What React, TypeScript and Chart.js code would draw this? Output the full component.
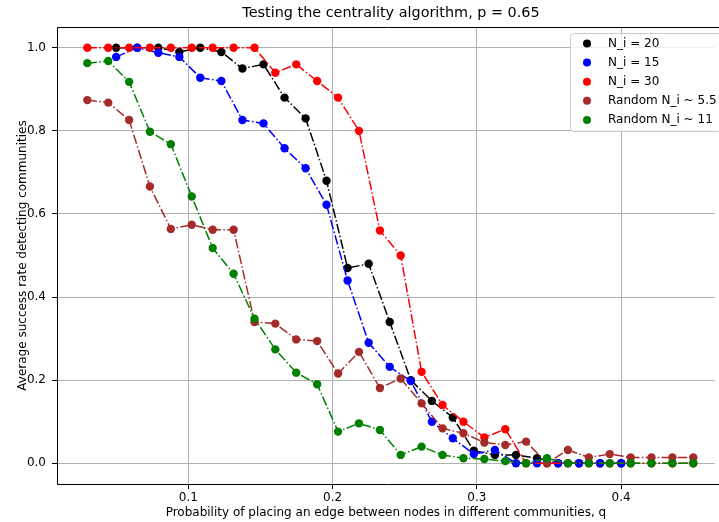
import React, { useEffect, useRef } from "react";
import { Chart, registerables } from "chart.js";

Chart.register(...registerables);

// q grid for N_i = 30 and the random series (30 points)
const qWide = [
  0.03, 0.0445, 0.059, 0.0734, 0.0879, 0.1024, 0.1169, 0.1314, 0.1459, 0.1603,
  0.1748, 0.1893, 0.2038, 0.2183, 0.2328, 0.2472, 0.2617, 0.2762, 0.2907, 0.3052,
  0.3197, 0.3341, 0.3486, 0.3631, 0.3776, 0.3921, 0.4066, 0.421, 0.4355, 0.45,
];
// q grid for N_i = 20 and N_i = 15 (25 points)
const qNarrow = [
  0.05, 0.0646, 0.0792, 0.0938, 0.1083, 0.1229, 0.1375, 0.1521, 0.1667, 0.1813,
  0.1958, 0.2104, 0.225, 0.2396, 0.2542, 0.2688, 0.2833, 0.2979, 0.3125, 0.3271,
  0.3417, 0.3563, 0.3708, 0.3854, 0.4,
];

const ni20 = [
  1.0, 1.0, 1.0, 0.99, 1.0, 0.99, 0.95, 0.96, 0.88, 0.83,
  0.68, 0.47, 0.48, 0.34, 0.2, 0.15, 0.11, 0.03, 0.02, 0.02,
  0.012, 0, 0, 0, 0,
];
const ni15 = [
  0.978, 1.0, 0.988, 0.978, 0.928, 0.92, 0.826, 0.818, 0.758, 0.71,
  0.622, 0.44, 0.29, 0.232, 0.198, 0.1, 0.06, 0.022, 0.032, 0,
  0, 0, 0, 0, 0,
];
const ni30 = [
  1.0, 1.0, 1.0, 1.0, 1.0, 1.0, 1.0, 1.0, 1.0, 0.94,
  0.96, 0.92, 0.88, 0.8, 0.56, 0.5, 0.22, 0.14, 0.1, 0.062,
  0.082, 0, 0, 0, 0, 0, 0, 0, 0, 0,
];
const rand55 = [
  0.874, 0.868, 0.826, 0.666, 0.564, 0.574, 0.562, 0.562, 0.34, 0.336,
  0.298, 0.294, 0.216, 0.268, 0.181, 0.204, 0.144, 0.084, 0.072, 0.05,
  0.044, 0.052, 0, 0.032, 0.014, 0.022, 0.014, 0.014, 0.014, 0.014,
];
const rand11 = [
  0.963, 0.968, 0.918, 0.798, 0.768, 0.642, 0.518, 0.456, 0.348, 0.274,
  0.218, 0.19, 0.076, 0.096, 0.08, 0.02, 0.04, 0.02, 0.012, 0.01,
  0.005, 0, 0.012, 0, 0, 0, 0, 0, 0, 0,
];

const seriesLabels = ["N_i = 20", "N_i = 15", "N_i = 30", "Random N_i ~ 5.5", "Random N_i ~ 11"];
const seriesColors = ["#000000", "#0000ff", "#ff0000", "#a52a2a", "#008000"];
const xTicks = [0.1, 0.2, 0.3, 0.4];
const yTicks = [0.0, 0.2, 0.4, 0.6, 0.8, 1.0];

const titleText = "Testing the centrality algorithm, p = 0.65";
const xLabel = "Probability of placing an edge between nodes in different communities, q";
const yLabel = "Average success rate detecting communities";

const FONT = '"DejaVu Sans", sans-serif';

const decorPlugin = {
  id: "decor",
  afterDraw(chart: any) {
    const { ctx, chartArea } = chart;
    const { left, top, right, bottom } = chartArea;
    ctx.save();
    // spines
    ctx.strokeStyle = "#000";
    ctx.lineWidth = 1;
    ctx.beginPath();
    ctx.moveTo(left + 0.5, bottom + 0.5);
    ctx.lineTo(left + 0.5, top + 0.5);
    ctx.lineTo(right + 5, top + 0.5);
    ctx.moveTo(left + 0.5, bottom + 0.5);
    ctx.lineTo(right + 5, bottom + 0.5);
    ctx.stroke();

    // title
    ctx.fillStyle = "#000";
    ctx.font = `14.4px ${FONT}`;
    ctx.textAlign = "center";
    ctx.textBaseline = "middle";
    ctx.fillText(titleText, 391, 13.5);

    // legend
    const bx = 570.5, by = 33.5, bw = 170, bh = 98, r = 3;
    ctx.beginPath();
    ctx.moveTo(bx + r, by);
    ctx.lineTo(bx + bw - r, by);
    ctx.quadraticCurveTo(bx + bw, by, bx + bw, by + r);
    ctx.lineTo(bx + bw, by + bh - r);
    ctx.quadraticCurveTo(bx + bw, by + bh, bx + bw - r, by + bh);
    ctx.lineTo(bx + r, by + bh);
    ctx.quadraticCurveTo(bx, by + bh, bx, by + bh - r);
    ctx.lineTo(bx, by + r);
    ctx.quadraticCurveTo(bx, by, bx + r, by);
    ctx.closePath();
    ctx.fillStyle = "rgba(255,255,255,0.8)";
    ctx.fill();
    ctx.strokeStyle = "#cccccc";
    ctx.lineWidth = 1;
    ctx.stroke();

    ctx.font = `12px ${FONT}`;
    ctx.textAlign = "left";
    ctx.textBaseline = "middle";
    seriesLabels.forEach((lab, i) => {
      const y = 43.5 + i * 19.1;
      ctx.beginPath();
      ctx.arc(587, y, 4, 0, Math.PI * 2);
      ctx.fillStyle = seriesColors[i];
      ctx.fill();
      ctx.fillStyle = "#000";
      ctx.fillText(lab, 608, y);
    });
    ctx.restore();
  },
};

export default function App() {
  const ref = useRef<HTMLCanvasElement | null>(null);

  useEffect(() => {
    document.body.style.margin = "0";
    const canvas = ref.current;
    if (!canvas) return;

    const mk = (xs: number[], ys: number[]) => ys.map((y, i) => ({ x: xs[i], y }));
    const allData = [
      mk(qNarrow, ni20),
      mk(qNarrow, ni15),
      mk(qWide, ni30),
      mk(qWide, rand55),
      mk(qWide, rand11),
    ];

    const datasets = allData.map((d, i) => ({
      label: seriesLabels[i],
      data: d,
      borderColor: seriesColors[i],
      backgroundColor: seriesColors[i],
      pointBackgroundColor: seriesColors[i],
      pointBorderColor: seriesColors[i],
      pointRadius: 4.2,
      pointBorderWidth: 0,
      borderWidth: 1.5,
      borderDash: [9.6, 2.4, 1.5, 2.4],
      tension: 0,
      fill: false,
      order: 4 - i,
    }));

    const tickFont = { family: FONT, size: 12 };

    const chart = new Chart(canvas, {
      type: "line",
      data: { datasets },
      options: {
        animation: false,
        responsive: false,
        devicePixelRatio: 1,
        layout: { padding: { top: 27, left: 0, right: 1, bottom: 0 } },
        plugins: {
          legend: { display: false },
          title: { display: false },
          tooltip: { enabled: false },
        },
        scales: {
          x: {
            type: "linear",
            min: 0.009,
            max: 0.4649,
            afterBuildTicks: (s: any) => {
              s.ticks = xTicks.map((v) => ({ value: v }));
            },
            afterFit: (s: any) => {
              s.height = 38;
            },
            ticks: {
              font: tickFont,
              color: "#000",
              padding: 2,
              maxRotation: 0,
              autoSkip: false,
              callback: (v: any) => Number(v).toFixed(1),
            },
            grid: { color: "#b0b0b0", tickColor: "#000", tickLength: 5, lineWidth: 1 },
            border: { display: false },
            title: {
              display: true,
              text: xLabel,
              color: "#000",
              font: { family: FONT, size: 12 },
              padding: { top: 0, bottom: 1.5 },
            },
          },
          y: {
            type: "linear",
            min: -0.05,
            max: 1.05,
            afterBuildTicks: (s: any) => {
              s.ticks = yTicks.map((v) => ({ value: v }));
            },
            afterFit: (s: any) => {
              s.width = 57;
            },
            ticks: {
              font: tickFont,
              color: "#000",
              padding: 6,
              callback: (v: any) => Number(v).toFixed(1),
            },
            grid: { color: "#b0b0b0", tickColor: "#000", tickLength: 5, lineWidth: 1 },
            border: { display: false },
            title: {
              display: true,
              text: yLabel,
              color: "#000",
              font: { family: FONT, size: 12 },
              padding: { top: 16, bottom: 0 },
            },
          },
        },
      },
      plugins: [decorPlugin],
    } as any);

    return () => chart.destroy();
  }, []);

  return (
    <div style={{ width: 719, height: 522, overflow: "hidden", background: "#fff" }}>
      <canvas ref={ref} width={719} height={522} style={{ display: "block" }} />
    </div>
  );
}
